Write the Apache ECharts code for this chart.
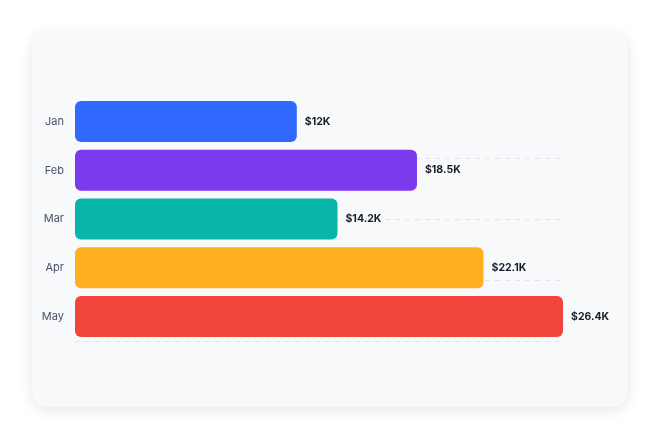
<!DOCTYPE html>
<html>
<head>
<meta charset="utf-8">
<script src="https://cdn.jsdelivr.net/npm/echarts@6/dist/echarts.min.js"></script>
<style>
html,body{margin:0;padding:0;background:#ffffff;}
#chart{width:660px;height:440px;}
</style>
</head>
<body>
<div id="chart"></div>
<script>
var categories = ['Jan', 'Feb', 'Mar', 'Apr', 'May'];
var revenue = [12, 18.5, 14.2, 22.1, 26.4];
var valueLabels = ['$12K', '$18.5K', '$14.2K', '$22.1K', '$26.4K'];
var barColors = ['#2f69ff', '#7b3aeb', '#07b6a8', '#ffb020', '#f0453a'];

var chart = echarts.init(document.getElementById('chart'), null, {renderer: 'canvas'});
var option = {
  backgroundColor: '#ffffff',
  animation: false,
  graphic: [{
    type: 'rect',
    z: -10,
    silent: true,
    shape: {x: 32, y: 31, width: 596, height: 376, r: 16},
    style: {
      fill: '#f8f9fb',
      shadowBlur: 14,
      shadowOffsetY: 3,
      shadowColor: 'rgba(15,23,42,0.10)'
    }
  }],
  grid: {left: 75, right: 97, top: 97, bottom: 99, containLabel: false},
  xAxis: {
    type: 'value',
    min: 0,
    max: 'dataMax',
    show: false
  },
  yAxis: [{
    type: 'category',
    data: categories,
    inverse: true,
    axisLine: {show: false},
    axisTick: {show: false},
    splitLine: {show: false},
    axisLabel: {
      color: '#4a5068',
      fontSize: 11,
      fontFamily: 'Inter, "Noto Sans", sans-serif',
      margin: 11
    }
  }, {
    type: 'value',
    min: 0,
    max: 4,
    interval: 1,
    position: 'right',
    axisLine: {show: false},
    axisTick: {show: false},
    axisLabel: {show: false},
    splitLine: {
      show: true,
      showMaxLine: false,
      lineStyle: {color: '#e3e6ec', type: [5, 5], width: 1}
    }
  }],
  series: [{
    type: 'bar',
    yAxisIndex: 0,
    data: revenue.map(function (v, i) {
      return {
        value: v,
        itemStyle: {color: barColors[i]},
        label: {formatter: valueLabels[i]}
      };
    }),
    barWidth: '84%',
    itemStyle: {borderRadius: 6},
    label: {
      show: true,
      position: 'right',
      distance: 8,
      color: '#1a1d29',
      fontSize: 10.5,
      fontWeight: 700,
      fontFamily: 'Inter, "Noto Sans", sans-serif'
    },
    z: 3
  }]
};
chart.setOption(option);
</script>
</body>
</html>
